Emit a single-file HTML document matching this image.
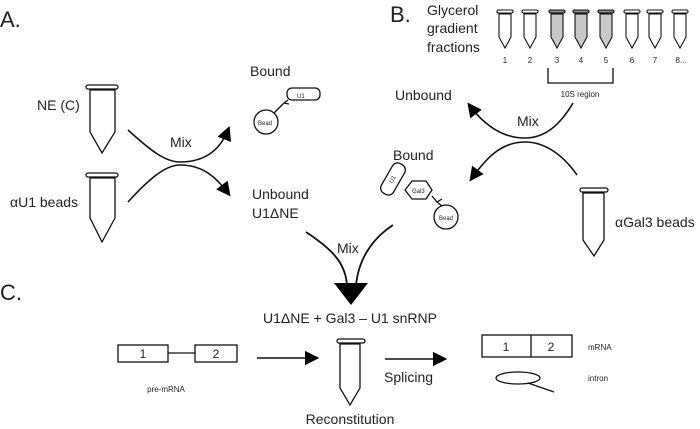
<!DOCTYPE html>
<html><head><meta charset="utf-8"><style>
html,body{margin:0;padding:0;background:#fff;}
svg{display:block;}
text{font-family:"Liberation Sans","DejaVu Sans",sans-serif;fill:#222;}
</style></head><body>
<svg width="700" height="429" viewBox="0 0 700 429" xmlns="http://www.w3.org/2000/svg">
<defs>
<marker id="ah" viewBox="0 0 10 10" refX="7" refY="5" markerWidth="9" markerHeight="9" markerUnits="strokeWidth" orient="auto-start-reverse"><path d="M0,0 L10,5 L0,10 z" fill="#000"/></marker>
</defs>
<g fill="none" stroke="#111" stroke-width="1.3">
<rect x="86" y="85" width="32" height="4" rx="2" fill="#fff"/>
<path d="M90,90 L115,90 L115,132 L102,153 L90,132 Z"/>
<rect x="86" y="173" width="32" height="4" rx="2" fill="#fff"/>
<path d="M90,178 L115,178 L115,218 L102,242 L90,218 Z"/>
<path d="M128,130 C150,150 165,162 180,162 C205,162 220,150 228,130" marker-end="url(#ah)" stroke-width="1.6"/>
<path d="M128,202 C148,180 165,165 180,165 C205,165 218,180 228,193" marker-end="url(#ah)" stroke-width="1.6"/>
<rect x="287" y="88" width="33" height="12" rx="5"/>
<circle cx="266" cy="122" r="12"/>
<path d="M274,113 L284,103 M284,103 L288,100 M284,103 L289,104"/>
<path d="M306,232 C330,248 346,262 347,286" stroke-width="1.8"/>
<path d="M393,225 C370,240 358,262 356,286" stroke-width="1.8"/>
<g stroke-width="1.1">
<rect x="497" y="10" width="16" height="3" rx="1.5"/><path d="M499,14 L511,14 L511,37 L505,48 L499,37 Z"/>
<rect x="522" y="10" width="16" height="3" rx="1.5"/><path d="M524,14 L536,14 L536,37 L530,48 L524,37 Z"/>
<rect x="549" y="10" width="16" height="3" rx="1.5" fill="#888"/><path d="M551,14 L563,14 L563,37 L557,48 L551,37 Z" fill="#c8c8c8"/>
<rect x="573" y="10" width="16" height="3" rx="1.5" fill="#888"/><path d="M575,14 L587,14 L587,37 L581,48 L575,37 Z" fill="#c8c8c8"/>
<rect x="598" y="10" width="16" height="3" rx="1.5" fill="#888"/><path d="M600,14 L612,14 L612,37 L606,48 L600,37 Z" fill="#c8c8c8"/>
<rect x="624" y="10" width="16" height="3" rx="1.5"/><path d="M626,14 L638,14 L638,37 L632,48 L626,37 Z"/>
<rect x="647" y="10" width="16" height="3" rx="1.5"/><path d="M649,14 L661,14 L661,37 L655,48 L649,37 Z"/>
<rect x="672" y="10" width="16" height="3" rx="1.5"/><path d="M674,14 L686,14 L686,37 L680,48 L674,37 Z"/>
</g>
<path d="M548,68 L548,83 L613,83 L613,68"/>
<path d="M573,103 C560,125 545,138 525,138 C500,138 482,122 470,106" marker-end="url(#ah)" stroke-width="1.6"/>
<path d="M577,175 C563,155 545,142 525,142 C500,142 485,160 472,178" marker-end="url(#ah)" stroke-width="1.6"/>
<rect x="376" y="172" width="34" height="14" rx="6" transform="rotate(-60 393 179)"/>
<path d="M405,190 L412,181 L426,181 L432,190 L426,199 L412,199 Z"/>
<path d="M432,196 L437,202 L442,199 M437,202 L442,206"/>
<circle cx="446" cy="217" r="12"/>
<rect x="580" y="188" width="28" height="4" rx="2" fill="#fff"/>
<path d="M583,193 L604,193 L604,240 L594,256 L583,240 Z"/>
<rect x="118" y="345" width="50" height="17"/>
<line x1="168" y1="353" x2="195" y2="353"/>
<rect x="195" y="345" width="42" height="17"/>
<line x1="257" y1="358" x2="315" y2="358" stroke-width="1.6" marker-end="url(#ah)"/>
<rect x="337" y="339" width="28" height="4" rx="2" fill="#fff"/>
<path d="M340,344 L360,344 L360,388 L350,405 L340,388 Z"/>
<line x1="385" y1="359" x2="443" y2="359" stroke-width="1.6" marker-end="url(#ah)"/>
<rect x="482" y="335" width="90" height="22"/>
<line x1="531" y1="335" x2="531" y2="357"/>
<ellipse cx="518" cy="378" rx="22" ry="6"/>
<line x1="528" y1="383" x2="554" y2="392"/>
</g>
<path d="M334,283 L368,283 L351,305 Z" fill="#000"/>
<text x="0" y="27" font-size="22">A.</text>
<text x="37" y="110" font-size="14">NE (C)</text>
<text x="10" y="207" font-size="14">αU1 beads</text>
<text x="170" y="147" font-size="14">Mix</text>
<text x="250" y="76" font-size="14">Bound</text>
<text x="297" y="98" font-size="6">U1</text>
<text x="258" y="125" font-size="6">Bead</text>
<text x="252" y="199" font-size="14">Unbound</text>
<text x="252" y="218" font-size="14">U1ΔNE</text>
<text x="337" y="253" font-size="14">Mix</text>
<text x="390" y="22" font-size="22">B.</text>
<text x="427" y="15" font-size="14">Glycerol</text>
<text x="427" y="33" font-size="14">gradient</text>
<text x="427" y="52" font-size="14">fractions</text>
<g font-size="8" text-anchor="middle"><text x="505" y="63">1</text><text x="530" y="63">2</text><text x="557" y="63">3</text><text x="581" y="63">4</text><text x="606" y="63">5</text><text x="632" y="63">6</text><text x="655" y="63">7</text><text x="681" y="63">8...</text></g>
<text x="580" y="97" font-size="8" text-anchor="middle">10S region</text>
<text x="395" y="100" font-size="14">Unbound</text>
<text x="517" y="126" font-size="14">Mix</text>
<text x="393" y="160" font-size="14">Bound</text>
<text x="389" y="182" font-size="6" transform="rotate(-60 392 180)">U1</text>
<text x="412" y="193" font-size="6">Gal3</text>
<text x="439" y="220" font-size="6">Bead</text>
<text x="615" y="227" font-size="14">αGal3 beads</text>
<text x="0" y="300" font-size="22">C.</text>
<text x="350" y="323" font-size="14" text-anchor="middle">U1ΔNE  +  Gal3 – U1 snRNP</text>
<text x="143" y="358" font-size="12" text-anchor="middle">1</text>
<text x="216" y="358" font-size="12" text-anchor="middle">2</text>
<text x="166" y="392" font-size="8" text-anchor="middle">pre-mRNA</text>
<text x="350" y="424" font-size="14" text-anchor="middle">Reconstitution</text>
<text x="384" y="382" font-size="14">Splicing</text>
<text x="506" y="351" font-size="12" text-anchor="middle">1</text>
<text x="551" y="351" font-size="12" text-anchor="middle">2</text>
<text x="588" y="350" font-size="8">mRNA</text>
<text x="588" y="381" font-size="8">intron</text>
</svg>
</body></html>
